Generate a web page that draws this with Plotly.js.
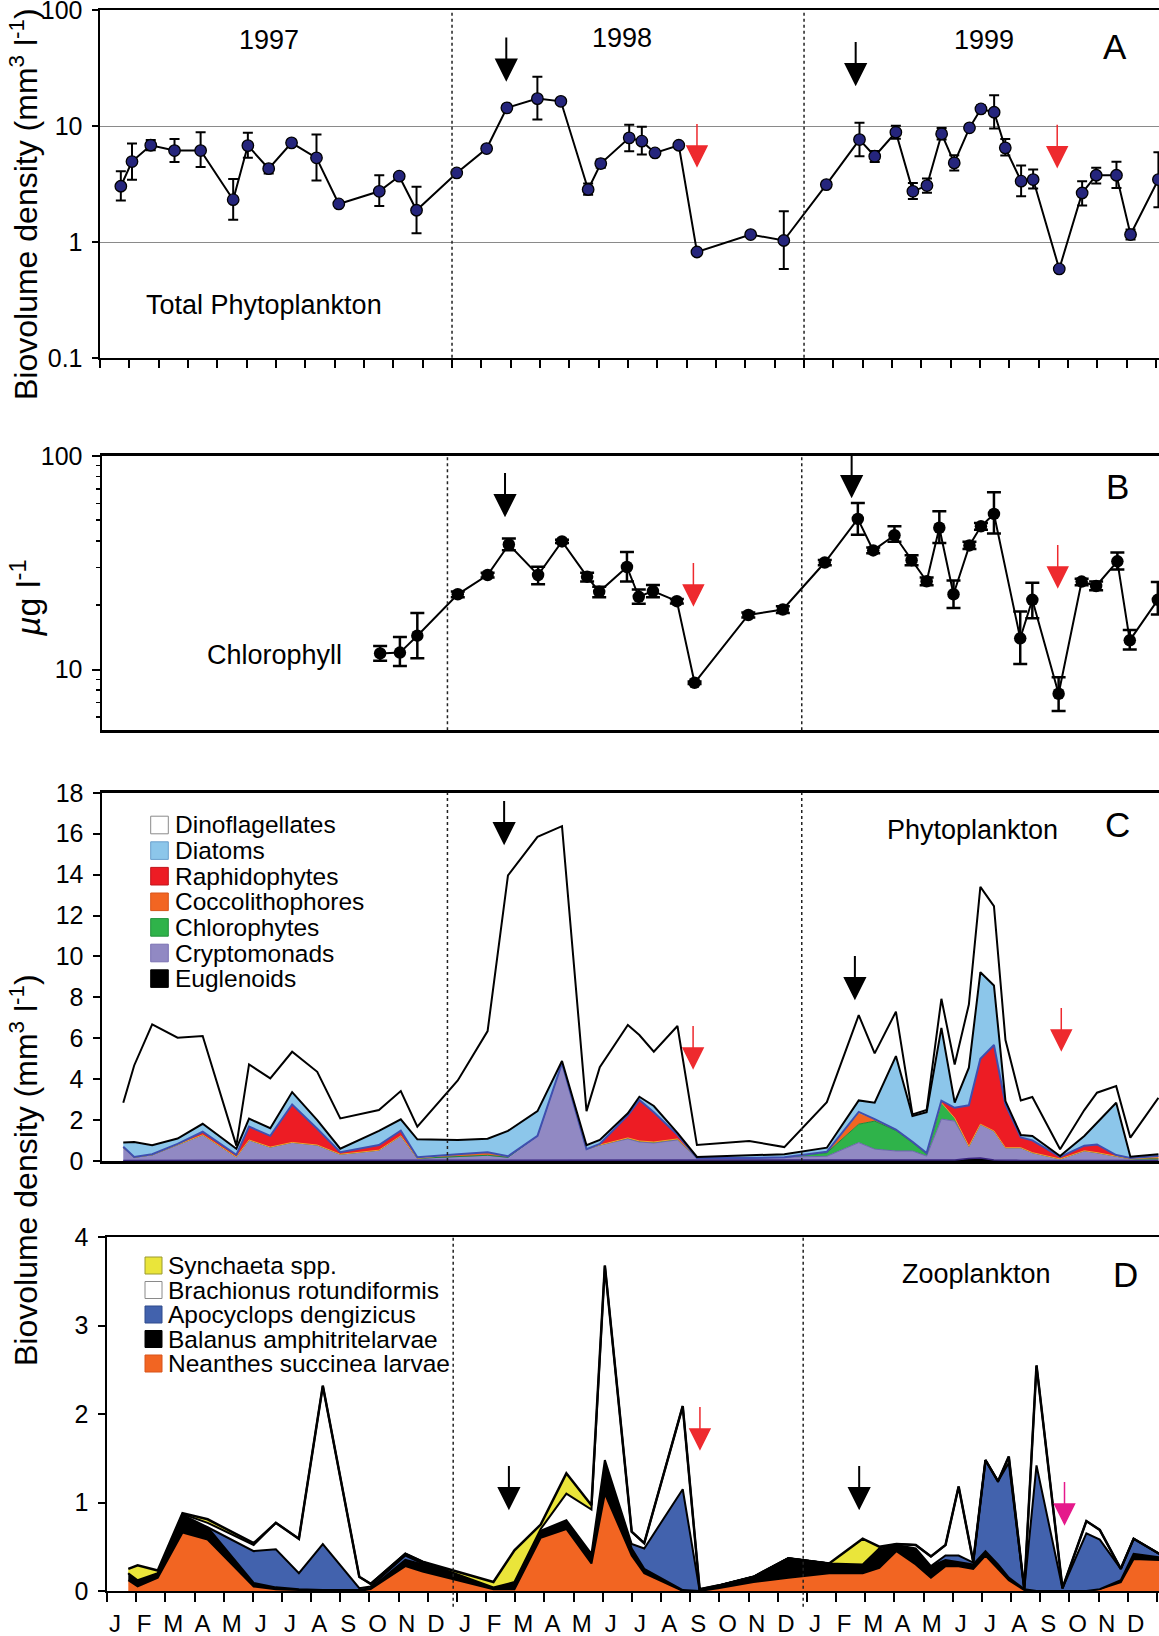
<!DOCTYPE html>
<html>
<head>
<meta charset="utf-8">
<script src="https://cdn.plot.ly/plotly-3.0.1.min.js"></script>
<style>
html,body{margin:0;padding:0;background:#fff;}
#chart{width:1159px;height:1636px;}
</style>
</head>
<body>
<div id="chart"></div>
<script>
// ---------------- DATA ----------------
const months = ['J','F','M','A','M','J','J','A','S','O','N','D'];
const yearLabels = ['1997','1998','1999'];

// Panel A : total phytoplankton biovolume (mm3 l-1), x = months since Jan 1997
const mA = [0.71,1.09,1.73,2.54,3.43,4.54,5.04,5.75,6.53,7.38,8.14,9.52,10.20,10.79,12.16,13.18,13.87,14.91,15.71,16.64,17.07,18.04,18.47,18.92,19.73,20.35,22.18,23.31,24.76,25.89,26.41,27.13,27.71,28.19,28.69,29.12,29.64,30.03,30.48,30.86,31.40,31.81,32.70,33.48,33.96,34.65,35.13,36.08];
const phytoA = [3.03,4.95,6.85,6.16,6.16,2.32,6.8,4.3,7.18,5.33,2.13,2.74,3.7,1.88,3.95,6.41,14.4,17.3,16.4,2.84,4.76,7.93,7.42,5.88,6.85,0.82,1.16,1.03,3.13,7.67,5.5,8.87,2.74,3.07,8.58,4.82,9.68,14.1,13.2,6.5,3.35,3.46,0.585,2.65,3.77,3.77,1.16,3.46];
const phytoHi = [4.08,7.08,7.6,7.77,8.87,3.5,8.76,4.67,7.5,8.47,2.2,3.77,3.87,3.0,4.1,6.7,15.0,26.7,16.9,3.2,5.15,10.3,9.9,6.1,7.0,0.85,1.2,1.84,3.3,10.7,6.1,10.1,3.24,3.53,9.67,5.6,10.0,15.1,18.5,7.77,4.57,4.22,0.62,3.35,4.37,4.92,1.28,5.96];
const phytoLo = [2.28,3.44,6.2,4.9,4.45,1.56,5.33,3.9,6.9,3.4,2.06,2.05,3.5,1.19,3.8,6.15,13.8,11.4,15.9,2.56,4.37,6.08,5.7,5.65,6.7,0.79,1.12,0.585,2.95,5.5,4.9,7.8,2.35,2.66,7.67,4.14,9.3,13.2,9.55,5.58,2.48,2.9,0.55,2.07,3.2,2.93,1.05,2.0];

// Panel B : chlorophyll (ug l-1)
const mB = [9.72,10.39,10.98,12.35,13.36,14.08,15.07,15.88,16.73,17.14,18.08,18.48,18.96,19.77,20.37,22.19,23.36,24.78,25.90,26.42,27.14,27.72,28.23,28.66,29.14,29.68,30.07,30.51,31.40,31.81,32.70,33.48,33.97,34.69,35.11,36.06];
const chlB = [11.9,12.0,14.4,22.5,27.7,38.5,27.7,39.8,27.2,23.1,30.2,21.9,23.3,20.9,8.67,18.0,19.1,31.7,50.7,36.1,42.5,32.5,25.9,46.1,22.5,38.1,46.8,53.5,14.0,21.2,7.7,25.8,24.6,32.1,13.7,21.2];
const chlHi = [12.9,14.2,18.4,23.2,28.4,41.0,30.3,40.5,28.4,24.4,35.5,23.7,24.9,21.4,8.8,18.5,19.8,32.6,60.2,37.3,46.9,34.3,27.0,55.1,26.1,39.6,48.5,67.5,18.7,25.5,9.2,26.6,25.8,35.3,15.3,25.7];
const chlLo = [11.0,10.4,11.3,21.8,27.0,36.2,25.1,39.1,25.8,21.8,25.8,20.3,21.8,20.4,8.55,17.5,18.4,30.8,42.7,35.0,39.6,30.8,24.8,39.1,19.4,36.7,45.1,43.3,10.6,17.4,6.4,24.8,23.5,29.4,12.4,18.1];

// Panel C : phytoplankton groups (mm3 l-1), stacked
const mC = [1.02,1.39,2.0,2.86,3.71,4.85,5.28,6.0,6.74,7.59,8.37,9.68,10.42,10.98,12.35,13.36,14.05,15.05,15.88,16.71,17.16,18.11,18.5,18.99,19.79,20.45,22.22,23.41,24.85,25.93,26.47,27.19,27.75,28.23,28.73,29.18,29.66,30.05,30.51,30.9,31.42,31.81,32.75,33.57,34.0,34.65,35.13,36.08];
const euglenoids = [.03,.03,.03,.03,.03,.03,.03,.03,.06,.03,.03,.03,.03,.03,.03,.03,.03,.03,.03,.03,.03,.03,.03,.03,.03,.03,.03,.03,.03,.05,.03,.03,.03,.03,.05,.05,.12,.15,.05,.03,.03,.03,.03,.03,.03,.03,.03,.03];
const cryptomonads = [.62,.15,.27,.75,1.25,.17,1.0,.65,.85,.75,.3,.5,1.2,.1,.2,.25,.15,1.2,4.75,.55,.75,1.05,.9,.85,1.0,.12,.12,.15,.2,.85,.55,.46,.46,.21,2.0,1.9,.6,1.65,1.42,.62,.62,.38,.07,.47,.38,.21,.07,.07];
const chlorophytes = [0,0,0,0,0,0,0,0,0,0,0,0,0,0,0,0,0,0,0,0,0,.05,.05,.05,.05,0,0,0,.17,.9,1.37,1.0,.4,.1,.8,.15,0,0,0,0,0,0,0,0,0,0,0,0];
const coccolithophores = [0,0,0,0,0,0,0,0,0,0,0,0,0,0,.1,.15,.05,0,0,0,0,0,0,0,0,0,0,0,.05,.55,.1,.05,.05,.05,0,0,0,0,0,0,0,0,0,0,0,0,0,.1];
const raphidophytes = [.05,.02,.03,.06,.15,.1,.65,.55,1.85,.8,.1,.25,.25,.05,0,0,0,0,0,0,.05,1.1,2.0,1.45,.2,0,0,0,0,.05,0,0,0,0,.1,.5,2.0,3.2,4.2,2.1,.5,.6,.1,.25,.4,.05,.05,.05];
const diatoms = [.20,.73,.44,.26,.39,.30,.39,.37,.61,.42,.17,.69,.56,.88,.70,.66,1.24,1.21,.11,.19,.20,.10,.16,.31,.10,.05,.13,.15,.20,.56,.80,3.59,1.26,2.00,3.56,.25,1.84,4.23,2.91,.18,.12,.21,.04,.47,1.06,2.56,.06,.08];
const dinoflagellates = [1.95,3.74,5.91,4.93,4.29,.15,2.65,2.44,1.97,2.36,1.48,1.02,1.38,.62,2.91,5.26,12.49,13.41,11.48,1.67,3.56,4.32,3.02,2.65,5.22,.58,.70,.35,2.23,4.17,2.41,2.17,.08,.10,1.42,1.87,3.09,4.17,3.88,2.98,1.69,1.91,.33,1.27,1.47,.81,.93,2.76];
const phytoGroups = ['Dinoflagellates','Diatoms','Raphidophytes','Coccolithophores','Chlorophytes','Cryptomonads','Euglenoids'];

// Panel D : zooplankton groups (mm3 l-1), stacked
const mD = [0.86,1.18,1.87,2.72,3.58,5.16,5.92,6.71,7.53,8.78,9.17,10.36,10.95,13.38,14.1,15.0,15.88,16.74,17.2,18.12,18.55,19.87,20.45,21.08,22.3,23.49,24.89,26.04,26.61,27.2,27.86,28.38,28.88,29.33,29.83,30.25,30.68,31.05,31.58,32.0,32.89,33.71,34.17,34.89,35.33,36.21];
const neanthes = [.12,.05,.15,.66,.58,.05,.02,.01,0,0,.02,.28,.22,.02,.02,.6,.7,.31,1.1,.4,.2,0,0,.03,.1,.15,.2,.2,.26,.45,.3,.15,.28,.28,.25,.4,.25,.12,.01,0,0,0,.02,.1,.36,.35];
const balanus = [.08,.07,.05,.2,.14,.04,.02,.01,.01,.01,.01,.07,.08,.02,.08,.08,.1,.11,.38,.08,.05,.01,0,.03,.06,.22,.11,.1,.2,.07,.18,.13,.07,.05,.05,.05,.05,.03,.01,0,0,0,0,.02,.06,.03];
const apocyclops = [0,0,0,0,0,.36,.43,.18,.52,.02,.02,.05,.01,0,0,0,0,0,0,.05,.23,1.14,0,0,0,0,0,0,0,0,0,0,.05,.07,.02,1.03,.94,1.3,0,1.42,.03,.65,.56,.13,.17,.04];
const brachionus = [0,0,0,.01,.05,.07,.3,.39,1.79,.13,.03,.02,.02,0,0,.02,.3,.5,2.2,.14,.06,.94,.02,0,0,0,0,0,.02,.01,.04,.11,.12,.78,.01,0,0,.07,0,1.13,0,.14,.11,0,0,0];
const synchaeta = [.05,.17,.03,.01,.04,.02,0,0,0,0,0,0,0,.06,.36,.05,.23,.05,0,0,0,0,0,0,0,0,0,.29,.02,0,0,0,0,0,0,0,0,0,0,0,0,0,0,0,0,0];
const zooGroups = ['Synchaeta spp.','Brachionus rotundiformis','Apocyclops dengizicus','Balanus amphitritelarvae','Neanthes succinea larvae'];

// ---------------- LAYOUT GEOMETRY (pixels) ----------------
const W = 1159, H = 1636;
const FONT = 'Liberation Sans, Arial, Helvetica, sans-serif';
const P = {
  A: {l:100, t:10.4,   b:357.8,  r0:0,    r1:36.1, x:'x',  y:'y'},
  B: {l:102, t:455.9,  b:730.2,  r0:0.3,  r1:36.1, x:'x2', y:'y2'},
  C: {l:102, t:792.8,  b:1161,   r0:0.3,  r1:36.1, x:'x3', y:'y3'},
  D: {l:107, t:1237.3, b:1590.9, r0:0.13, r1:36.2, x:'x4', y:'y4'}
};
const xdom = p => [p.l / W, 1];
const ydom = p => [1 - p.b / H, 1 - p.t / H];

const diff = (a, b) => a.map((v, i) => v - b[i]);

// ---------------- TRACES ----------------
const traces = [];

traces.push({
  x: mA, y: phytoA, xaxis: 'x', yaxis: 'y', type: 'scatter', mode: 'lines+markers',
  line: {color: '#000', width: 2},
  marker: {size: 11.5, color: '#25257c', line: {color: '#000', width: 1.3}},
  error_y: {type: 'data', symmetric: false, array: diff(phytoHi, phytoA), arrayminus: diff(phytoA, phytoLo),
            color: '#000', thickness: 2, width: 5},
  cliponaxis: false
});

traces.push({
  x: mB, y: chlB, xaxis: 'x2', yaxis: 'y2', type: 'scatter', mode: 'lines+markers',
  line: {color: '#000', width: 2},
  marker: {size: 12.5, color: '#000'},
  error_y: {type: 'data', symmetric: false, array: diff(chlHi, chlB), arrayminus: diff(chlB, chlLo),
            color: '#000', thickness: 2.5, width: 7},
  cliponaxis: false
});

const cSeries = [
  {y: euglenoids,       fill: '#000000', line: '#3a2580', w: 1.5},
  {y: cryptomonads,     fill: '#9189c3', line: '#6f64b0', w: 1},
  {y: chlorophytes,     fill: '#2fb34a', line: '#1e8a3a', w: 1},
  {y: coccolithophores, fill: '#f26522', line: '#f4a030', w: 1},
  {y: raphidophytes,    fill: '#ed1c24', line: '#3f4fb0', w: 2},
  {y: diatoms,          fill: '#8cc6ea', line: '#000000', w: 2},
  {y: dinoflagellates,  fill: '#ffffff', line: '#000000', w: 2}
];
cSeries.forEach(s => traces.push({
  x: mC, y: s.y, xaxis: 'x3', yaxis: 'y3', type: 'scatter', mode: 'lines', stackgroup: 'c',
  line: {color: s.line, width: s.w}, fillcolor: s.fill
}));

const dSeries = [
  {y: neanthes,   fill: '#f26522', w: 2},
  {y: balanus,    fill: '#000000', w: 2},
  {y: apocyclops, fill: '#4262ad', w: 2},
  {y: brachionus, fill: '#ffffff', w: 2},
  {y: synchaeta,  fill: '#eae53a', w: 2.5}
];
dSeries.forEach(s => traces.push({
  x: mD, y: s.y, xaxis: 'x4', yaxis: 'y4', type: 'scatter', mode: 'lines', stackgroup: 'd',
  line: {color: '#000', width: s.w}, fillcolor: s.fill
}));

// ---------------- AXES ----------------
const tickFont = {family: FONT, size: 25, color: '#000'};
const baseX = {showline: true, linecolor: '#000', linewidth: 2.5, mirror: true, showgrid: false,
               zeroline: false, showticklabels: false, ticks: '', fixedrange: true,
               ticklabeloverflow: 'allow'};
const baseY = {showline: true, linecolor: '#000', linewidth: 2.5, showgrid: false, zeroline: false,
               ticks: 'outside', ticklen: 7, tickwidth: 2, tickcolor: '#000', tickfont: tickFont,
               ticklabelstandoff: 4, fixedrange: true, ticklabeloverflow: 'allow'};

const monthTickVals = [], monthTickText = [];
for (let k = 0; k < 36; k++) {
  monthTickVals.push(k + P.D.r0);
  monthTickText.push(months[k % 12]);
}
const intTicks = [];
for (let k = 0; k <= 36; k++) intTicks.push(k);

const layout = {
  width: W, height: H,
  margin: {l: 0, r: 0, t: 0, b: 0},
  paper_bgcolor: '#fff', plot_bgcolor: 'rgba(0,0,0,0)',
  showlegend: false, hovermode: false,
  font: {family: FONT, color: '#000'},
  xaxis: Object.assign({}, baseX, {domain: xdom(P.A), range: [P.A.r0, P.A.r1], anchor: 'y',
          ticks: 'outside', tickmode: 'array', tickvals: intTicks, ticklen: 8, tickwidth: 2, tickcolor: '#000'}),
  yaxis: Object.assign({}, baseY, {domain: ydom(P.A), anchor: 'x', type: 'log', range: [-1, 2],
          tickmode: 'array', tickvals: [0.1, 1, 10, 100], ticktext: ['0.1', '1', '10', '100'],
          showgrid: true, gridcolor: '#8a8a8a', gridwidth: 1, ticklen: 6}),
  xaxis2: Object.assign({}, baseX, {domain: xdom(P.B), range: [P.B.r0, P.B.r1], anchor: 'y2'}),
  yaxis2: Object.assign({}, baseY, {domain: ydom(P.B), anchor: 'x2', type: 'log', range: [Math.log10(5.2), 2],
          tickmode: 'array', tickvals: [10, 100], ticktext: ['10', '100'], ticklen: 8,
          minor: {ticks: 'outside', ticklen: 4, tickwidth: 1.5, tickcolor: '#000', showgrid: false,
                  tickmode: 'array', tickvals: [6, 7, 8, 9, 20, 30, 40, 50, 60, 70, 80, 90]}}),
  xaxis3: Object.assign({}, baseX, {domain: xdom(P.C), range: [P.C.r0, P.C.r1], anchor: 'y3'}),
  yaxis3: Object.assign({}, baseY, {domain: ydom(P.C), anchor: 'x3', range: [0, 18], tickmode: 'linear', tick0: 0, dtick: 2}),
  xaxis4: Object.assign({}, baseX, {domain: xdom(P.D), range: [P.D.r0, P.D.r1], anchor: 'y4',
          ticks: 'outside', tickmode: 'array', tickvals: monthTickVals, ticktext: monthTickText,
          ticklen: 9, tickwidth: 2, tickcolor: '#000', showticklabels: true,
          tickfont: {family: FONT, size: 24, color: '#000'}, ticklabelshift: 8, ticklabelstandoff: 1,
          minor: {ticks: 'outside', ticklen: 9, tickwidth: 2, tickcolor: '#000', showgrid: false,
                  tickmode: 'array', tickvals: [36 + P.D.r0]}}),
  yaxis4: Object.assign({}, baseY, {domain: ydom(P.D), anchor: 'x4', range: [0, 4], tickmode: 'linear', tick0: 0, dtick: 1}),
  shapes: [],
  annotations: []
};

// dotted year boundaries
['A', 'B', 'C', 'D'].forEach(k => {
  const p = P[k];
  [12, 24].forEach(v => layout.shapes.push({
    type: 'line', xref: p.x, yref: p.y + ' domain', x0: v, x1: v, y0: k === 'D' ? -0.045 : 0, y1: 1,
    line: {color: '#222', width: 1.5, dash: 'dot'}, layer: 'above'
  }));
});

// arrows (panel, month, tip pixel y, colour)
const arrowColors = {k: '#000000', r: '#ee2a2e', m: '#e5198b'};
const arrows = [
  ['A', 13.85, 79.5, 'k'], ['A', 25.76, 84, 'k'], ['A', 20.35, 166, 'r'], ['A', 32.63, 166.7, 'r'],
  ['B', 13.95, 515, 'k'], ['B', 25.69, 496, 'k'], ['B', 20.33, 605, 'r'], ['B', 32.67, 587, 'r'],
  ['C', 13.92, 843, 'k'], ['C', 25.80, 998, 'k'], ['C', 20.32, 1068, 'r'], ['C', 32.79, 1050, 'r'],
  ['D', 13.91, 1508, 'k'], ['D', 25.92, 1508, 'k'], ['D', 20.46, 1449, 'r'], ['D', 32.96, 1524, 'm']
];
arrows.forEach(a => {
  const p = P[a[0]], col = arrowColors[a[3]];
  layout.shapes.push({
    type: 'path', xref: p.x + ' domain', yref: p.y + ' domain',
    xsizemode: 'pixel', ysizemode: 'pixel',
    xanchor: (a[1] - p.r0) / (p.r1 - p.r0), yanchor: (p.b - a[2]) / (p.b - p.t),
    path: 'M0,0 L-10,20 L10,20 Z M0,20 L0,42',
    fillcolor: col, line: {color: col, width: a[3] === 'k' ? 2 : 1.5}, layer: 'above'
  });
});

// legends drawn as swatches + text
const cLegColors = ['#ffffff', '#8cc6ea', '#ed1c24', '#f26522', '#2fb34a', '#9189c3', '#000000'];
const cLegBorder = ['#8a8a8a', '#6a9fcc', '#c0141b', '#d8541a', '#22923b', '#7a71b3', '#000000'];
phytoGroups.forEach((name, i) => {
  const cy = 825 + i * 25.6;
  layout.shapes.push({type: 'rect', xref: 'paper', yref: 'paper',
    x0: 150.7 / W, x1: 168.3 / W, y0: 1 - (cy + 8.8) / H, y1: 1 - (cy - 8.8) / H,
    fillcolor: cLegColors[i], line: {color: cLegBorder[i], width: 1}});
  layout.annotations.push({xref: 'paper', yref: 'paper', x: 173 / W, y: 1 - cy / H, xanchor: 'left', yanchor: 'middle',
    text: name, showarrow: false, font: {family: FONT, size: 24.5, color: '#000'}});
});
const dLegColors = ['#eae53a', '#ffffff', '#4262ad', '#000000', '#f26522'];
const dLegBorder = ['#9a9a30', '#8a8a8a', '#2f4a8c', '#000000', '#d8541a'];
zooGroups.forEach((name, i) => {
  const cy = 1265.5 + i * 24.5;
  layout.shapes.push({type: 'rect', xref: 'paper', yref: 'paper',
    x0: 145 / W, x1: 162 / W, y0: 1 - (cy + 8.5) / H, y1: 1 - (cy - 8.5) / H,
    fillcolor: dLegColors[i], line: {color: dLegBorder[i], width: 1}});
  layout.annotations.push({xref: 'paper', yref: 'paper', x: 166 / W, y: 1 - cy / H, xanchor: 'left', yanchor: 'middle',
    text: name, showarrow: false, font: {family: FONT, size: 24.5, color: '#000'}});
});

// text labels
function txt(text, px, py, size, extra) {
  layout.annotations.push(Object.assign({xref: 'paper', yref: 'paper', x: px / W, y: 1 - py / H,
    xanchor: 'center', yanchor: 'middle', text: text, showarrow: false,
    font: {family: FONT, size: size, color: '#000'}}, extra || {}));
}
txt(yearLabels[0], 269, 40, 27);
txt(yearLabels[1], 622, 38, 27);
txt(yearLabels[2], 984, 40, 27);
txt('A', 1115, 47, 35);
txt('B', 1117, 486, 35);
txt('C', 1117, 824, 35);
txt('D', 1125, 1274, 35);
txt('Total Phytoplankton', 264, 305, 27);
txt('Chlorophyll', 274, 655, 27);
txt('Phytoplankton', 972, 830, 27);
txt('Zooplankton', 976, 1274, 27);
txt('Biovolume density (mm<sup>3</sup> l<sup>-1</sup>)', 24, 204, 32, {textangle: -90});
txt('<i>µ</i>g l<sup>-1</sup>', 25, 598, 34, {textangle: -90});
txt('Biovolume density (mm<sup>3</sup> l<sup>-1</sup>)', 24, 1170, 32, {textangle: -90});

Plotly.newPlot('chart', traces, layout, {staticPlot: true, displayModeBar: false});
</script>
</body>
</html>
